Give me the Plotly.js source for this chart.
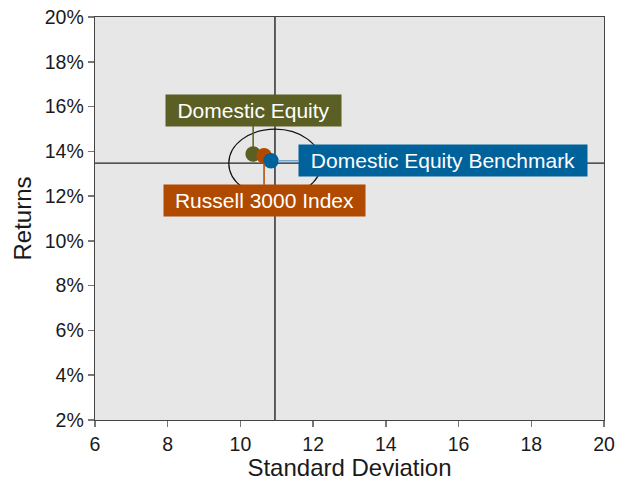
<!DOCTYPE html>
<html>
<head>
<meta charset="utf-8">
<script src="https://cdn.plot.ly/plotly-3.0.1.min.js"></script>
<style>html,body{margin:0;padding:0;background:#fff;}#chart{width:628px;height:481px;}</style>
</head>
<body>
<div id="chart"></div>
<script>
// Data
const names = ["Domestic Equity", "Russell 3000 Index", "Domestic Equity Benchmark"];
const stdDev = [10.35, 10.65, 10.84];
const returns = [13.88, 13.80, 13.58];
const colors = ["#5c5f24", "#b04a00", "#00629b"];
const leaderColors = ["#5c5f24", "#b04a00", "#6aa6d6"];
const crossX = 10.95;      // crosshair standard deviation
const crossY = 13.47;      // crosshair return
const ellipseRx = 1.27;
const ellipseRy = 1.52;
const xTicks = [6, 8, 10, 12, 14, 16, 18, 20];
const yTicks = [2, 4, 6, 8, 10, 12, 14, 16, 18, 20];
const yTickLabels = yTicks.map(v => v + "%");

const font = "'Liberation Sans', Arial, sans-serif";

const traces = names.map((n, i) => ({
  type: "scatter", mode: "markers", name: n,
  x: [stdDev[i]], y: [returns[i]],
  marker: {color: colors[i], size: 15.5, line: {width: 0}},
  hoverinfo: "skip", showlegend: false
}));

// label offsets (pixels) and box widths
const ax = [0, 0, 172];
const ay = [-44, 45, 0];
const widths = [171, 197, 284];

const annotations = names.map((n, i) => ({
  x: stdDev[i], y: returns[i], xref: "x", yref: "y",
  text: n, showarrow: true, arrowhead: 0, arrowwidth: 1.5,
  arrowcolor: leaderColors[i], standoff: 7,
  ax: ax[i], ay: ay[i],
  bgcolor: colors[i], borderpad: 2, width: widths[i], height: 27,
  font: {family: font, size: 21, color: "#ffffff"}
}));

const layout = {
  width: 628, height: 481,
  margin: {l: 95, r: 24, t: 17, b: 61},
  paper_bgcolor: "#ffffff", plot_bgcolor: "#e7e7e7",
  showlegend: false,
  xaxis: {
    range: [6, 20], tickvals: xTicks, ticktext: xTicks.map(String),
    showgrid: false, zeroline: false,
    showline: true, linecolor: "#444", linewidth: 1.3, mirror: true,
    ticks: "outside", ticklen: 6, tickcolor: "#777", tickwidth: 1.5,
    tickfont: {family: font, size: 19.5, color: "#1a1a1a"},
    title: {text: "Standard Deviation", font: {family: font, size: 24, color: "#1a1a1a"}, standoff: 5}
  },
  yaxis: {
    range: [2, 20], tickvals: yTicks, ticktext: yTickLabels,
    showgrid: false, zeroline: false,
    showline: true, linecolor: "#444", linewidth: 1.3, mirror: true,
    ticks: "outside", ticklen: 6, tickcolor: "#777", tickwidth: 1.5,
    tickfont: {family: font, size: 19.5, color: "#1a1a1a"},
    title: {text: "Returns", font: {family: font, size: 24, color: "#1a1a1a"}, standoff: 6}
  },
  shapes: [
    {type: "line", xref: "x", yref: "paper", x0: crossX, x1: crossX, y0: 0, y1: 1,
     line: {color: "#000", width: 1.2}, layer: "below"},
    {type: "line", xref: "paper", yref: "y", x0: 0, x1: 1, y0: crossY, y1: crossY,
     line: {color: "#222", width: 1.2}, layer: "below"},
    {type: "circle", xref: "x", yref: "y",
     x0: crossX - ellipseRx, x1: crossX + ellipseRx,
     y0: crossY - ellipseRy, y1: crossY + ellipseRy,
     line: {color: "#111", width: 1.2}, layer: "below"}
  ],
  annotations: annotations
};

Plotly.newPlot("chart", traces, layout, {displayModeBar: false, staticPlot: true});
</script>
</body>
</html>
